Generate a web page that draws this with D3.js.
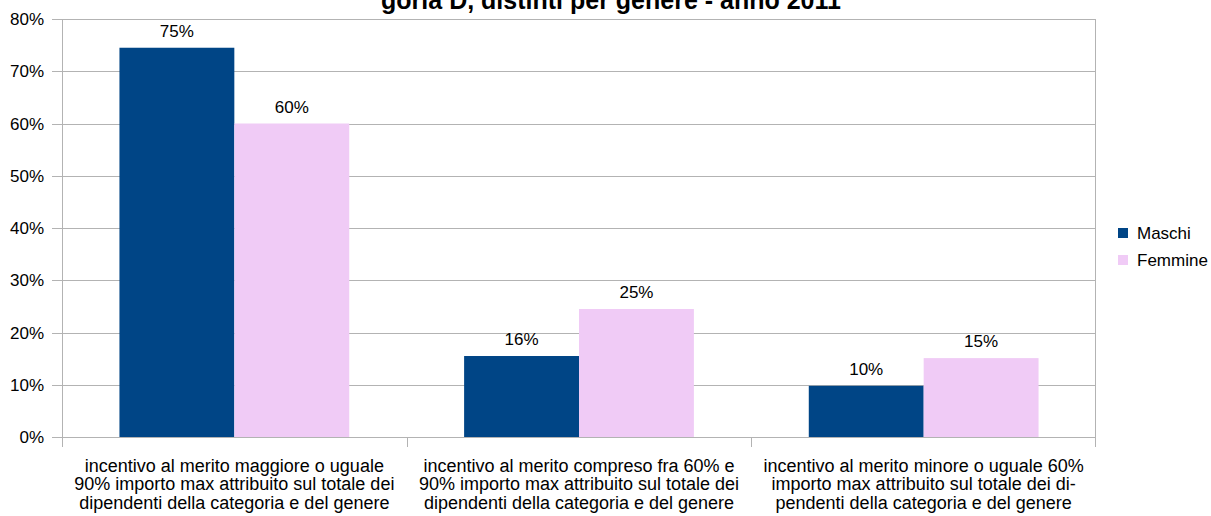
<!DOCTYPE html>
<html><head><meta charset="utf-8">
<script src="https://cdn.jsdelivr.net/npm/d3@7"></script>
<style>body{margin:0;background:#fff}svg{display:block}text{font-family:"Liberation Sans",Arial,sans-serif;fill:#000}</style>
</head><body><svg id="c" width="1211" height="516"></svg>
<script>
const categories = [
  ["incentivo al merito maggiore o uguale","90% importo max attribuito sul totale dei","dipendenti della categoria e del genere"],
  ["incentivo al merito compreso fra 60% e","90% importo max attribuito sul totale dei","dipendenti della categoria e del genere"],
  ["incentivo al merito minore o uguale 60%","importo max attribuito sul totale dei di-","pendenti della categoria e del genere"]
];
const seriesNames = ["Maschi","Femmine"];
const maschi = [0.745, 0.155, 0.098];
const femmine = [0.600, 0.245, 0.151];
const valueLabels = [["75%","16%","10%"],["60%","25%","15%"]];
const yTicks = [0,0.1,0.2,0.3,0.4,0.5,0.6,0.7,0.8];
const colors = ["#004586","#f0cbf6"];
const title = "goria D, distinti per genere - anno 2011";

const svg = d3.select("#c");
const L=62,R=1096,T=19,B=437;
const FS=17;
const x = d3.scaleBand().domain(d3.range(categories.length)).range([L,R]);
const xs = d3.scaleBand().domain(seriesNames).range([0,x.bandwidth()]).paddingOuter(0.5).paddingInner(0);
const y = d3.scaleLinear().domain([0,0.8]).range([B,T]);
const grid="#b3b3b3";

svg.append("g").selectAll("line").data(yTicks).join("line")
  .attr("x1",L-10).attr("x2",R).attr("y1",d=>Math.round(y(d))+0.5).attr("y2",d=>Math.round(y(d))+0.5)
  .attr("stroke",grid).attr("stroke-width",1);
svg.append("line").attr("x1",L+0.5).attr("x2",L+0.5).attr("y1",T).attr("y2",B+10).attr("stroke",grid);
svg.append("line").attr("x1",R-0.5).attr("x2",R-0.5).attr("y1",T).attr("y2",B+10).attr("stroke",grid);
svg.append("g").selectAll("line").data(d3.range(1,categories.length)).join("line")
  .attr("x1",d=>Math.round(x(d))+0.5).attr("x2",d=>Math.round(x(d))+0.5).attr("y1",B).attr("y2",B+10).attr("stroke",grid);

svg.append("g").selectAll("text").data(yTicks).join("text")
  .attr("x",44).attr("y",d=>y(d)+6).attr("text-anchor","end").attr("font-size",FS)
  .text(d3.format(".0%"));

const series=[maschi,femmine];
series.forEach((vals,si)=>{
  const g=svg.append("g");
  g.selectAll("rect").data(vals).join("rect")
    .attr("x",(d,i)=>x(i)+xs(seriesNames[si])).attr("width",xs.bandwidth())
    .attr("y",d=>y(d)).attr("height",d=>B-y(d)).attr("fill",colors[si]);
  g.selectAll("text").data(vals).join("text")
    .attr("x",(d,i)=>x(i)+xs(seriesNames[si])+xs.bandwidth()/2).attr("y",d=>y(d)-11)
    .attr("text-anchor","middle").attr("font-size",FS).text((d,i)=>valueLabels[si][i]);
});

categories.forEach((lines,i)=>{
  const t=svg.append("text").attr("text-anchor","middle").attr("font-size",18);
  lines.forEach((ln,j)=>t.append("tspan").attr("x",x(i)+x.bandwidth()/2).attr("y",472+j*18.3).text(ln));
});

seriesNames.forEach((n,i)=>{
  svg.append("rect").attr("x",1118).attr("y",228+i*27).attr("width",10).attr("height",10).attr("fill",colors[i]);
  svg.append("text").attr("x",1137).attr("y",239+i*27).attr("font-size",FS).text(n);
});

svg.append("text").attr("x",611).attr("y",9).attr("text-anchor","middle").attr("font-size",25).attr("font-weight","bold").text(title);
</script></body></html>
